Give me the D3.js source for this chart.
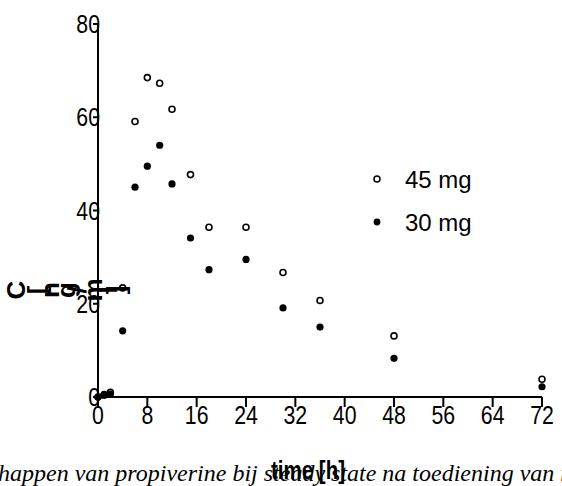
<!DOCTYPE html>
<html>
<head>
<meta charset="utf-8">
<script src="https://cdn.jsdelivr.net/npm/d3@7"></script>
<style>
  body { margin: 0; background: #fff; }
  svg { display: block; }
  .lbl { font-family: "Liberation Sans", Arial, sans-serif; }
</style>
</head>
<body>
<svg width="562" height="486"></svg>
<script>
// sampling times (h)
var times = [0, 1, 2, 4, 6, 8, 10, 12, 15, 18, 24, 30, 36, 48, 72];
// plasma concentration, ng/ml
var mg45 = [0, 0.5, 1, 23.4, 59.1, 68.5, 67.3, 61.7, 47.7, 36.4, 36.4, 26.7, 20.7, 13.1, 3.8];
var mg30 = [0, 0.4, 0.6, 14.2, 45.0, 49.5, 54.0, 45.7, 34.1, 27.3, 29.5, 19.1, 15.0, 8.3, 2.2];
var xTicks = [0, 8, 16, 24, 32, 40, 48, 56, 64, 72];
var yTicks = [0, 20, 40, 60, 80];
var seriesNames = ["45 mg", "30 mg"];

var svg = d3.select("svg");

var x = d3.scaleLinear().domain([0, 72]).range([98, 542]),
    y = d3.scaleLinear().domain([0, 80]).range([397, 24]);

// axis lines + ticks (labels drawn separately, a bit condensed)
svg.append("line")
    .attr("x1", x(0)).attr("x2", x(72)).attr("y1", y(0)).attr("y2", y(0))
    .attr("stroke", "#000").attr("stroke-width", 2);
svg.append("line")
    .attr("x1", x(0)).attr("x2", x(0)).attr("y1", y(0) + 1).attr("y2", y(80))
    .attr("stroke", "#000").attr("stroke-width", 2);

svg.selectAll(".xt").data(xTicks).enter().append("line")
    .attr("x1", d => x(d)).attr("x2", d => x(d))
    .attr("y1", y(0)).attr("y2", y(0) + 10)
    .attr("stroke", "#000").attr("stroke-width", 2);
svg.selectAll(".yt").data(yTicks).enter().append("line")
    .attr("x1", x(0) - 5).attr("x2", x(0))
    .attr("y1", d => y(d)).attr("y2", d => y(d))
    .attr("stroke", "#000").attr("stroke-width", 2);

svg.selectAll(".xl").data(xTicks).enter().append("text")
    .attr("class", "lbl")
    .attr("transform", d => "translate(" + x(d) + "," + (y(0) + 27) + ") scale(0.85,1)")
    .attr("text-anchor", "middle")
    .attr("font-size", 25)
    .text(d => d);
svg.selectAll(".yl").data(yTicks).enter().append("text")
    .attr("class", "lbl")
    .attr("transform", d => "translate(" + (x(0) + 2) + "," + (y(d) + 9) + ") scale(0.85,1)")
    .attr("text-anchor", "end")
    .attr("font-size", 25)
    .text(d => d);

// points: open = 45 mg, filled = 30 mg
svg.selectAll(".p45").data(times).enter().append("circle")
    .attr("cx", d => x(d)).attr("cy", (d, i) => y(mg45[i]))
    .attr("r", 3).attr("fill", "#fff").attr("stroke", "#000").attr("stroke-width", 1.6);
svg.selectAll(".p30").data(times).enter().append("circle")
    .attr("cx", d => x(d)).attr("cy", (d, i) => y(mg30[i]))
    .attr("r", 3.6).attr("fill", "#000");

// legend
var leg = svg.append("g");
seriesNames.forEach(function (name, i) {
    var ly = 179 + i * 43;
    if (i === 0)
        leg.append("circle").attr("cx", 377).attr("cy", ly).attr("r", 3)
            .attr("fill", "#fff").attr("stroke", "#000").attr("stroke-width", 1.5);
    else
        leg.append("circle").attr("cx", 377).attr("cy", ly).attr("r", 3.4).attr("fill", "#000");
    leg.append("text").attr("class", "lbl")
        .attr("x", 405).attr("y", ly + 9)
        .attr("font-size", 24)
        .text(name);
});

// y title, glyphs rotated one by one (as in the original)
var yTitle = "C [ng/ml]";
var meas = svg.append("text").attr("class", "lbl").attr("font-size", 26)
    .attr("font-weight", "bold").attr("x", 0).attr("y", -100).text(yTitle);
var starts = [], widths = [];
for (var k = 0; k < yTitle.length; k++) {
    starts.push(meas.node().getStartPositionOfChar(k).x);
    widths.push(meas.node().getSubStringLength(k, 1));
}
meas.remove();
var centers = starts.map((s, k) => s + widths[k] / 2);
var cx = d3.scaleLinear().domain([centers[0], centers[centers.length - 1]]).range([16, 116]);
var yT = svg.append("g");
yTitle.split("").forEach(function (ch, k) {
    if (ch === " ") return;
    yT.append("text").attr("class", "lbl")
        .attr("font-size", 26).attr("font-weight", "bold")
        .attr("text-anchor", "middle").attr("dominant-baseline", "central")
        .attr("transform", "translate(" + cx(centers[k]) + ",290) rotate(-90)")
        .text(ch);
});

// caption fragment (cut off at both sides) and x title
svg.append("text")
    .attr("x", -2).attr("y", 481)
    .attr("font-family", "'Liberation Serif', 'Times New Roman', serif")
    .attr("font-style", "italic").attr("font-size", 24)
    .text("happen van propiverine bij steady state na toediening van r");

svg.append("text").attr("class", "lbl")
    .attr("transform", "translate(271,479) scale(0.82,1)")
    .attr("font-size", 25).attr("font-weight", "bold")
    .text("time [h]");
</script>
</body>
</html>
